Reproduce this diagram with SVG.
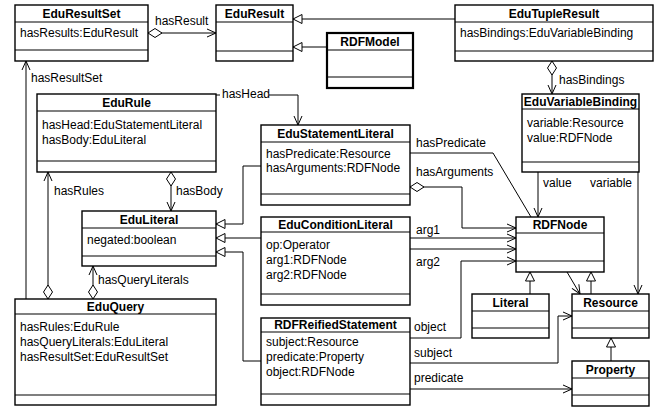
<svg xmlns="http://www.w3.org/2000/svg" width="658" height="409" viewBox="0 0 658 409">
<style>
.box{fill:#fff;stroke:#000;stroke-width:1.4}
.bold{stroke-width:2.2}
.sep{stroke:#000;stroke-width:1.2}
.t{font-family:"Liberation Sans",Arial,sans-serif;font-size:12px;font-weight:bold;text-anchor:middle;fill:#000}
.a{font-family:"Liberation Sans",Arial,sans-serif;font-size:12px;fill:#000}
.c{fill:none;stroke:#000;stroke-width:1}
.bg{fill:#fff}
</style>
<defs>
<marker id="open" markerUnits="userSpaceOnUse" markerWidth="12" markerHeight="12" refX="10" refY="5" orient="auto" overflow="visible">
<path d="M1,1 L10,5 L1,9" fill="none" stroke="#000" stroke-width="1"/>
</marker>
<marker id="tri" markerUnits="userSpaceOnUse" markerWidth="12" markerHeight="12" refX="10" refY="5" orient="auto" overflow="visible">
<path d="M1,0.5 L10,5 L1,9.5 Z" fill="#fff" stroke="#000" stroke-width="1"/>
</marker>
<marker id="dia" markerUnits="userSpaceOnUse" markerWidth="16" markerHeight="12" refX="0" refY="5" orient="auto" overflow="visible">
<path d="M0,5 L7,0.5 L14,5 L7,9.5 Z" fill="#fff" stroke="#000" stroke-width="1"/>
</marker>
</defs>

<g id="connectors">
<path class="c" d="M148,33 L216,33" marker-start="url(#dia)" marker-end="url(#open)"/>
<path class="c" d="M455,19 L293,19" marker-end="url(#tri)"/>
<path class="c" d="M327,47 L293,47" marker-end="url(#tri)"/>
<path class="c" d="M552,61 L552,94" marker-start="url(#dia)" marker-end="url(#open)"/>
<path class="c" d="M538,172 L538,217" marker-end="url(#open)"/>
<path class="c" d="M638,172 L638,294" marker-end="url(#open)"/>
<path class="c" d="M410,153 L493,153 L531,217"/>
<path class="c" d="M410,187 L462,187 L462,228 L516,228" marker-start="url(#dia)" marker-end="url(#open)"/>
<path class="c" d="M410,238 L516,238" marker-end="url(#open)"/>
<path class="c" d="M410,249 L516,249" marker-end="url(#open)"/>
<path class="c" d="M410,338 L461,338 L461,261 L516,261" marker-end="url(#open)"/>
<path class="c" d="M410,363 L558,363 L558,316 L572,316" marker-end="url(#open)"/>
<path class="c" d="M410,389 L572,389" marker-end="url(#open)"/>
<path class="c" d="M530,294 L530,272" marker-end="url(#tri)"/>
<path class="c" d="M591,294 L591,272" marker-end="url(#tri)"/>
<path class="c" d="M611,361 L611,338" marker-end="url(#tri)"/>
<path class="c" d="M567,272 L580,294" marker-end="url(#open)"/>
<path class="c" d="M216,95 L298,95 L298,125" marker-end="url(#open)"/>
<path class="c" d="M171,172 L171,211" marker-start="url(#dia)" marker-end="url(#open)"/>
<path class="c" d="M48,299 L48,172" marker-start="url(#dia)" marker-end="url(#open)"/>
<path class="c" d="M93,299 L93,266" marker-start="url(#dia)" marker-end="url(#open)"/>
<path class="c" d="M26,299 L26,61" marker-end="url(#open)"/>
<path class="c" d="M261,166 L243,166 L243,224 L216,224" marker-end="url(#tri)"/>
<path class="c" d="M261,238 L216,238" marker-end="url(#tri)"/>
<path class="c" d="M261,361 L243,361 L243,252 L216,252" marker-end="url(#tri)"/>
<rect class="bg" x="220" y="87" width="49" height="13"/>
<text class="a" x="155" y="25">hasResult</text>
<text class="a" x="559" y="84">hasBindings</text>
<text class="a" x="543" y="187">value</text>
<text class="a" x="590" y="187">variable</text>
<text class="a" x="416" y="147">hasPredicate</text>
<text class="a" x="416" y="176">hasArguments</text>
<text class="a" x="416" y="234">arg1</text>
<text class="a" x="416" y="266">arg2</text>
<text class="a" x="414" y="331">object</text>
<text class="a" x="414" y="357">subject</text>
<text class="a" x="414" y="382">predicate</text>
<text class="a" x="222" y="98">hasHead</text>
<text class="a" x="176" y="195">hasBody</text>
<text class="a" x="54" y="195">hasRules</text>
<text class="a" x="98" y="284">hasQueryLiterals</text>
<text class="a" x="31" y="82">hasResultSet</text>
</g>

<g id="EduResultSet">
<rect class="box" x="15" y="5" width="133" height="56"/>
<line class="sep" x1="15" y1="22" x2="148" y2="22"/><line class="sep" x1="15" y1="50" x2="148" y2="50"/>
<text class="t" x="81.5" y="18">EduResultSet</text>
<text class="a" x="20" y="37">hasResults:EduResult</text>
</g>
<g id="EduResult">
<rect class="box" x="216" y="5" width="77" height="56"/>
<line class="sep" x1="216" y1="22" x2="293" y2="22"/><line class="sep" x1="216" y1="51" x2="293" y2="51"/>
<text class="t" x="254.5" y="18">EduResult</text>
</g>
<g id="RDFModel">
<rect class="box bold" x="327" y="33" width="86" height="55"/>
<line class="sep" x1="327" y1="50" x2="413" y2="50"/><line class="sep" x1="327" y1="77" x2="413" y2="77"/>
<text class="t" x="370" y="46">RDFModel</text>
</g>
<g id="EduTupleResult">
<rect class="box" x="455" y="5" width="198" height="56"/>
<line class="sep" x1="455" y1="22" x2="653" y2="22"/><line class="sep" x1="455" y1="51" x2="653" y2="51"/>
<text class="t" x="554" y="18">EduTupleResult</text>
<text class="a" x="460" y="37">hasBindings:EduVariableBinding</text>
</g>
<g id="EduVariableBinding">
<rect class="box" x="522" y="94" width="117" height="78"/>
<line class="sep" x1="522" y1="109" x2="639" y2="109"/><line class="sep" x1="522" y1="162" x2="639" y2="162"/>
<text class="t" x="580.5" y="106">EduVariableBinding</text>
<text class="a" x="527" y="127">variable:Resource</text>
<text class="a" x="527" y="142">value:RDFNode</text>
</g>
<g id="EduRule">
<rect class="box" x="37" y="94" width="179" height="78"/>
<line class="sep" x1="37" y1="111" x2="216" y2="111"/><line class="sep" x1="37" y1="161" x2="216" y2="161"/>
<text class="t" x="126.5" y="107">EduRule</text>
<text class="a" x="42" y="129">hasHead:EduStatementLiteral</text>
<text class="a" x="42" y="144">hasBody:EduLiteral</text>
</g>
<g id="EduStatementLiteral">
<rect class="box" x="261" y="125" width="149" height="80"/>
<line class="sep" x1="261" y1="142" x2="410" y2="142"/><line class="sep" x1="261" y1="194" x2="410" y2="194"/>
<text class="t" x="335.5" y="138">EduStatementLiteral</text>
<text class="a" x="266" y="158">hasPredicate:Resource</text>
<text class="a" x="266" y="172">hasArguments:RDFNode</text>
</g>
<g id="EduLiteral">
<rect class="box" x="82" y="211" width="134" height="55"/>
<line class="sep" x1="82" y1="228" x2="216" y2="228"/><line class="sep" x1="82" y1="256" x2="216" y2="256"/>
<text class="t" x="149" y="224">EduLiteral</text>
<text class="a" x="87" y="244">negated:boolean</text>
</g>
<g id="EduConditionLiteral">
<rect class="box" x="261" y="217" width="149" height="88"/>
<line class="sep" x1="261" y1="232" x2="410" y2="232"/><line class="sep" x1="261" y1="294" x2="410" y2="294"/>
<text class="t" x="335.5" y="229">EduConditionLiteral</text>
<text class="a" x="266" y="249">op:Operator</text>
<text class="a" x="266" y="264">arg1:RDFNode</text>
<text class="a" x="266" y="279">arg2:RDFNode</text>
</g>
<g id="RDFNode">
<rect class="box" x="516" y="217" width="88" height="55"/>
<line class="sep" x1="516" y1="233" x2="604" y2="233"/><line class="sep" x1="516" y1="261" x2="604" y2="261"/>
<text class="t" x="560" y="229">RDFNode</text>
</g>
<g id="Literal">
<rect class="box" x="472" y="294" width="77" height="44"/>
<line class="sep" x1="472" y1="311" x2="549" y2="311"/><line class="sep" x1="472" y1="328" x2="549" y2="328"/>
<text class="t" x="510.5" y="307">Literal</text>
</g>
<g id="Resource">
<rect class="box" x="572" y="294" width="77" height="44"/>
<line class="sep" x1="572" y1="311" x2="649" y2="311"/><line class="sep" x1="572" y1="328" x2="649" y2="328"/>
<text class="t" x="610.5" y="307">Resource</text>
</g>
<g id="Property">
<rect class="box" x="572" y="361" width="77" height="45"/>
<line class="sep" x1="572" y1="378" x2="649" y2="378"/><line class="sep" x1="572" y1="395" x2="649" y2="395"/>
<text class="t" x="610.5" y="374">Property</text>
</g>
<g id="EduQuery">
<rect class="box" x="15" y="299" width="201" height="106"/>
<line class="sep" x1="15" y1="314" x2="216" y2="314"/><line class="sep" x1="15" y1="395" x2="216" y2="395"/>
<text class="t" x="115.5" y="311">EduQuery</text>
<text class="a" x="20" y="331">hasRules:EduRule</text>
<text class="a" x="20" y="346">hasQueryLiterals:EduLiteral</text>
<text class="a" x="20" y="361">hasResultSet:EduResultSet</text>
</g>
<g id="RDFReifiedStatement">
<rect class="box" x="261" y="318" width="149" height="87"/>
<line class="sep" x1="261" y1="332" x2="410" y2="332"/><line class="sep" x1="261" y1="394" x2="410" y2="394"/>
<text class="t" x="335.5" y="329">RDFReifiedStatement</text>
<text class="a" x="266" y="346">subject:Resource</text>
<text class="a" x="266" y="361">predicate:Property</text>
<text class="a" x="266" y="376">object:RDFNode</text>
</g>
</svg>
